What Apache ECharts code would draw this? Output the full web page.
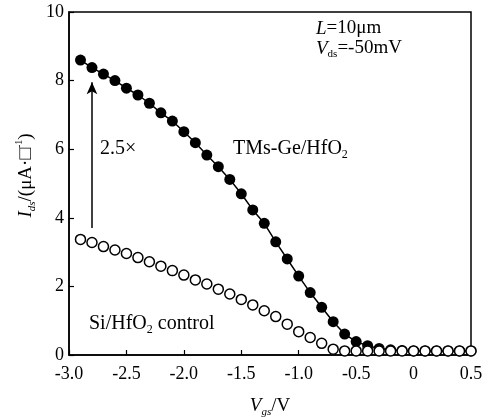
<html lang="en">
<head>
    <meta charset="UTF-8">
    <title>Ids-Vgs</title>
    <script src="https://cdn.jsdelivr.net/npm/echarts@6/dist/echarts.min.js"></script>
    <style>
        body { margin: 0; background: #fff; }
        #chart { width: 492px; height: 417px; }
    </style>
</head>
<body>
<div id="chart"></div>
<script>
    // gate voltage (V)
    var vgs = [-2.9, -2.8, -2.7, -2.6, -2.5, -2.4, -2.3, -2.2, -2.1, -2.0,
        -1.9, -1.8, -1.7, -1.6, -1.5, -1.4, -1.3, -1.2, -1.1, -1.0,
        -0.9, -0.8, -0.7, -0.6, -0.5, -0.4, -0.3, -0.2, -0.1, 0.0,
        0.1, 0.2, 0.3, 0.4, 0.5];
    // TMs-Ge/HfO2 (filled)
    var geIds = [8.60, 8.38, 8.19, 8.00, 7.78, 7.58, 7.34, 7.06, 6.82, 6.51,
        6.19, 5.83, 5.49, 5.12, 4.70, 4.23, 3.84, 3.30, 2.80, 2.30,
        1.82, 1.39, 0.97, 0.61, 0.39, 0.27, 0.19, 0.15, 0.13, 0.12,
        0.12, 0.12, 0.12, 0.12, 0.12];
    // Si/HfO2 control (open)
    var siIds = [3.37, 3.28, 3.16, 3.06, 2.96, 2.84, 2.72, 2.59, 2.46, 2.33,
        2.19, 2.07, 1.92, 1.78, 1.62, 1.46, 1.29, 1.12, 0.90, 0.68,
        0.51, 0.34, 0.17, 0.12, 0.12, 0.12, 0.12, 0.12, 0.12, 0.12,
        0.12, 0.12, 0.12, 0.12, 0.12];

    var font = 'Liberation Serif';

    function pairs(xs, ys) {
        var out = [];
        for (var i = 0; i < xs.length; i++) out.push([xs[i], ys[i]]);
        return out;
    }

    // 正文 / 斜体 / 下标 样式
    function txt(size, lh) {
        return {
            n: { fontFamily: font, fontSize: size, fill: '#000', color: '#000', lineHeight: lh },
            i: { fontFamily: font, fontStyle: 'italic', fontSize: size, fill: '#000', color: '#000', lineHeight: lh },
            s: { fontFamily: font, fontSize: Math.round(size * 0.6), fill: '#000', color: '#000', verticalAlign: 'bottom', lineHeight: lh },
            si: { fontFamily: font, fontStyle: 'italic', fontSize: Math.round(size * 0.6), fill: '#000', color: '#000', verticalAlign: 'bottom', lineHeight: lh },
            p: { fontFamily: font, fontSize: Math.round(size * 0.55), fill: '#000', color: '#000', verticalAlign: 'top', lineHeight: lh }
        };
    }

    var chart = echarts.init(document.getElementById('chart'));
    var option = {
        animation: false,
        grid: {
            left: 69, right: 21, top: 12, bottom: 62,
            outerBoundsMode: 'none',
            show: true, borderColor: '#000', borderWidth: 1.5
        },
        xAxis: {
            type: 'value', min: -3, max: 0.5, interval: 0.5,
            name: '{i|V}{si|gs}{n|/V}', nameLocation: 'middle', nameGap: 39,
            nameTextStyle: { rich: txt(19, 24) },
            axisLine: { onZero: false, lineStyle: { color: '#000', width: 1.5 } },
            axisTick: { inside: true, length: 5, lineStyle: { color: '#000', width: 1.2 } },
            axisLabel: {
                color: '#000', fontFamily: font, fontSize: 18, margin: 10,
                formatter: function (v) { return v === 0 ? '0' : v.toFixed(1); }
            },
            splitLine: { show: false }
        },
        yAxis: {
            type: 'value', min: 0, max: 10, interval: 2,
            name: '{i|I}{si|ds}{n|/(μA·□}{p|-1}{n|)}', nameLocation: 'middle', nameGap: 31, nameRotate: 90,
            nameMoveOverlap: false,
            nameTextStyle: { rich: txt(19, 24), padding: [0, 0, 0, 16] },
            axisLine: { onZero: false, lineStyle: { color: '#000', width: 1.5 } },
            axisTick: { inside: true, length: 5, lineStyle: { color: '#000', width: 1.2 } },
            axisLabel: { color: '#000', fontFamily: font, fontSize: 18, margin: 5 },
            splitLine: { show: false }
        },
        series: [{
            name: 'TMs-Ge/HfO2',
            type: 'line',
            data: pairs(vgs, geIds),
            symbol: 'circle', symbolSize: 11,
            lineStyle: { color: '#000', width: 1.5 },
            itemStyle: { color: '#000' },
            markLine: {
                silent: true,
                symbol: ['none', 'arrow'], symbolSize: [8, 12],
                lineStyle: { color: '#000', width: 1.5, type: 'solid' },
                label: { show: false },
                data: [[{ coord: [-2.8, 3.7] }, { coord: [-2.8, 7.95] }]]
            },
            z: 2
        }, {
            name: 'Si/HfO2 control',
            type: 'line',
            data: pairs(vgs, siIds),
            symbol: 'circle', symbolSize: 10, showAllSymbol: true,
            lineStyle: { width: 0, opacity: 0 },
            itemStyle: { color: '#fff', borderColor: '#000', borderWidth: 1.5 },
            z: 3
        }],
        graphic: [{
            type: 'text', left: 316, top: 19,
            style: { text: '{i|L}{n|=10μm}', rich: txt(19, 22) }
        }, {
            type: 'text', left: 316, top: 39,
            style: { text: '{i|V}{s|ds}{n|=-50mV}', rich: txt(19, 22) }
        }, {
            type: 'text', left: 233, top: 139,
            style: { text: '{n|TMs-Ge/HfO}{s|2}', rich: txt(20, 24) }
        }, {
            type: 'text', left: 100, top: 139,
            style: { text: '{n|2.5×}', rich: txt(20, 24) }
        }, {
            type: 'text', left: 89, top: 314,
            style: { text: '{n|Si/HfO}{s|2}{n| control}', rich: txt(20, 24) }
        }]
    };
    chart.setOption(option);
</script>
</body>
</html>
